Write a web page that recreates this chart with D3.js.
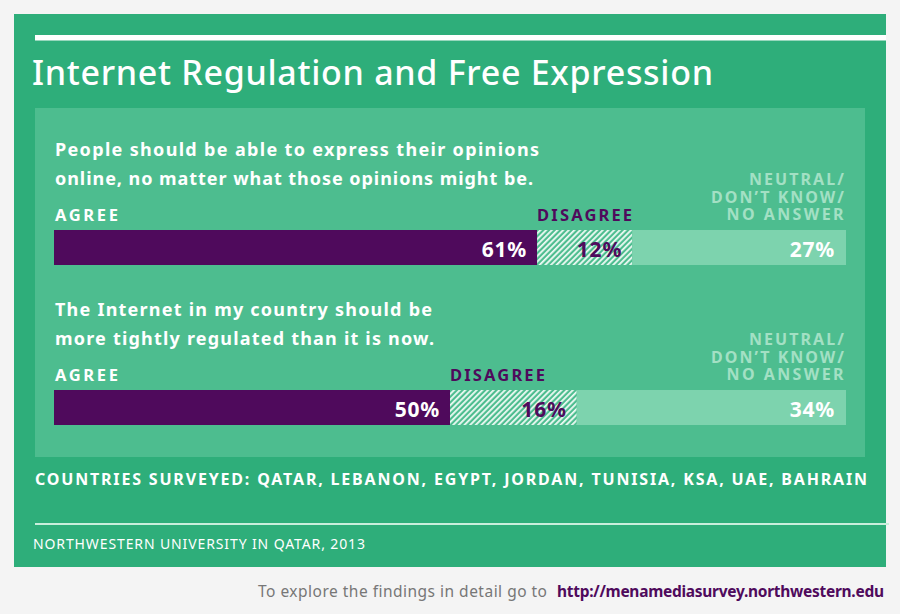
<!DOCTYPE html>
<html><head><meta charset="utf-8">
<script src="https://cdn.jsdelivr.net/npm/d3@7"></script>
<style>html,body{margin:0;padding:0;background:#f4f4f4;} svg{display:block;font-family:"Noto Sans",sans-serif;}</style>
</head><body>
<script>
// ---- data ----
const title = "Internet Regulation and Free Expression";
const questions = [
  ["People should be able to express their opinions", "online, no matter what those opinions might be."],
  ["The Internet in my country should be", "more tightly regulated than it is now."]
];
const agree = [61, 50];
const disagree = [12, 16];
const neutral = [27, 34];
const categoryLabels = ["AGREE", "DISAGREE", ["NEUTRAL/", "DON\u2019T KNOW/", "NO ANSWER"]];
const countriesText = "COUNTRIES SURVEYED: QATAR, LEBANON, EGYPT, JORDAN, TUNISIA, KSA, UAE, BAHRAIN";
const sourceText = "NORTHWESTERN UNIVERSITY IN QATAR, 2013";
const footerText = "To explore the findings in detail go to";
const footerLink = "http://menamediasurvey.northwestern.edu";

// ---- styles ----
const W = 900, H = 614;
const C = {bg:"#f4f4f4", outer:"#2eae7a", inner:"#4dbd8f", purple:"#4f0a5c", neutral:"#7dd3ae", neutralLabel:"#a3e0c4", white:"#ffffff"};

const svg = d3.select("body").append("svg").attr("width", W).attr("height", H);
const defs = svg.append("defs");
const pat = defs.append("pattern").attr("id","hatch").attr("patternUnits","userSpaceOnUse")
  .attr("width",4).attr("height",4).attr("patternTransform","rotate(45)");
pat.append("rect").attr("width",4).attr("height",4).attr("fill",C.inner);
pat.append("rect").attr("x",0).attr("width",1.8).attr("height",4).attr("fill","#f0faf5");

svg.append("rect").attr("width",W).attr("height",H).attr("fill",C.bg);
svg.append("rect").attr("x",14).attr("y",14).attr("width",872).attr("height",553).attr("fill",C.outer);
svg.append("rect").attr("x",35).attr("y",35).attr("width",851).attr("height",5.5).attr("fill",C.white);
svg.append("rect").attr("x",35).attr("y",108).attr("width",830).attr("height",349).attr("fill",C.inner);

const ctx = document.createElement("canvas").getContext("2d");
function measure(txt, size, weight){
  ctx.font = `${weight} ${size}px "Noto Sans"`;
  return ctx.measureText(txt).width;
}
function spacingFor(txt, size, weight, target){
  const w = measure(txt, size, weight);
  return txt.length > 1 ? ((target - w) / (txt.length - 1)).toFixed(3) : 0;
}
function fitText(sel, target){
  const txt = sel.text();
  const size = +sel.attr("font-size"), weight = sel.attr("font-weight") || 400;
  sel.attr("letter-spacing", spacingFor(txt, size, weight, target));
  return sel;
}

fitText(svg.append("text").attr("x",32).attr("y",85).attr("fill",C.white)
  .attr("font-size",34).attr("font-weight",500).text(title), 681);

const x = d3.scaleLinear().domain([0,100]).range([54,846]);
const y = d3.scaleLinear().domain([0,1]).range([230,390]);
const barH = 35;

const rows = agree.map((a,i)=>({i, a, d:disagree[i], n:neutral[i], q:questions[i]}));
const qWidths = [[484,478],[377,379]];

const g = svg.selectAll("g.row").data(rows).join("g").attr("class","row");

g.each(function(r){
  const s = d3.select(this);
  const top = y(r.i);
  const qt = s.append("text").attr("fill",C.white).attr("font-size",18).attr("font-weight",700);
  r.q.forEach((line,k)=>{
    qt.append("tspan").attr("x",55).attr("y",top-74+k*29)
      .attr("letter-spacing", spacingFor(line,18,700,qWidths[r.i][k])).text(line);
  });
  const segs = [
    {x0:0, x1:r.a, fill:C.purple},
    {x0:r.a, x1:r.a+r.d, fill:"url(#hatch)"},
    {x0:r.a+r.d, x1:r.a+r.d+r.n, fill:C.neutral}
  ];
  s.selectAll("rect.seg").data(segs).join("rect").attr("class","seg")
    .attr("x",d=>x(d.x0)).attr("y",top).attr("width",d=>x(d.x1)-x(d.x0)).attr("height",barH)
    .attr("fill",d=>d.fill);
  fitText(s.append("text").attr("x",x(0)+1).attr("y",top-9).attr("fill",C.white)
    .attr("font-size",16.5).attr("font-weight",700).text(categoryLabels[0]), 63);
  fitText(s.append("text").attr("x",x(r.a)).attr("y",top-9).attr("fill",C.purple)
    .attr("font-size",16.5).attr("font-weight",700).text(categoryLabels[1]), 95);
  const nw = [95, 133, 117];
  const nt = s.append("text").attr("fill",C.neutralLabel).attr("text-anchor","end")
    .attr("font-size",16).attr("font-weight",700);
  categoryLabels[2].forEach((line,k)=>{
    nt.append("tspan").attr("x",x(100)).attr("y",top-45+k*17.5)
      .attr("letter-spacing", spacingFor(line,16,700,nw[k])).text(line);
  });
  const vals = [
    {v:r.a, xr:x(r.a)-10, fill:C.white},
    {v:r.d, xr:x(r.a+r.d)-10, fill:C.purple},
    {v:r.n, xr:x(100)-11, fill:C.white}
  ];
  s.selectAll("text.val").data(vals).join("text").attr("class","val")
    .attr("x",d=>d.xr).attr("y",top+27).attr("text-anchor","end")
    .attr("font-size",21).attr("font-weight",700).attr("letter-spacing",0.8)
    .attr("fill",d=>d.fill).text(d=>d.v+"%");
});

fitText(svg.append("text").attr("x",35).attr("y",485).attr("fill",C.white)
  .attr("font-size",16).attr("font-weight",700).text(countriesText), 832);
svg.append("rect").attr("x",35).attr("y",523).attr("width",854).attr("height",2).attr("fill","#c9eedc");
fitText(svg.append("text").attr("x",33).attr("y",549).attr("fill",C.white)
  .attr("font-size",14).attr("font-weight",400).text(sourceText), 332);

fitText(svg.append("text").attr("x",258).attr("y",597).attr("fill","#777777")
  .attr("font-size",15.5).attr("font-weight",400).text(footerText), 289);
fitText(svg.append("text").attr("x",557).attr("y",597).attr("fill",C.purple)
  .attr("font-size",15.5).attr("font-weight",700).text(footerLink), 327);
</script>
</body></html>
